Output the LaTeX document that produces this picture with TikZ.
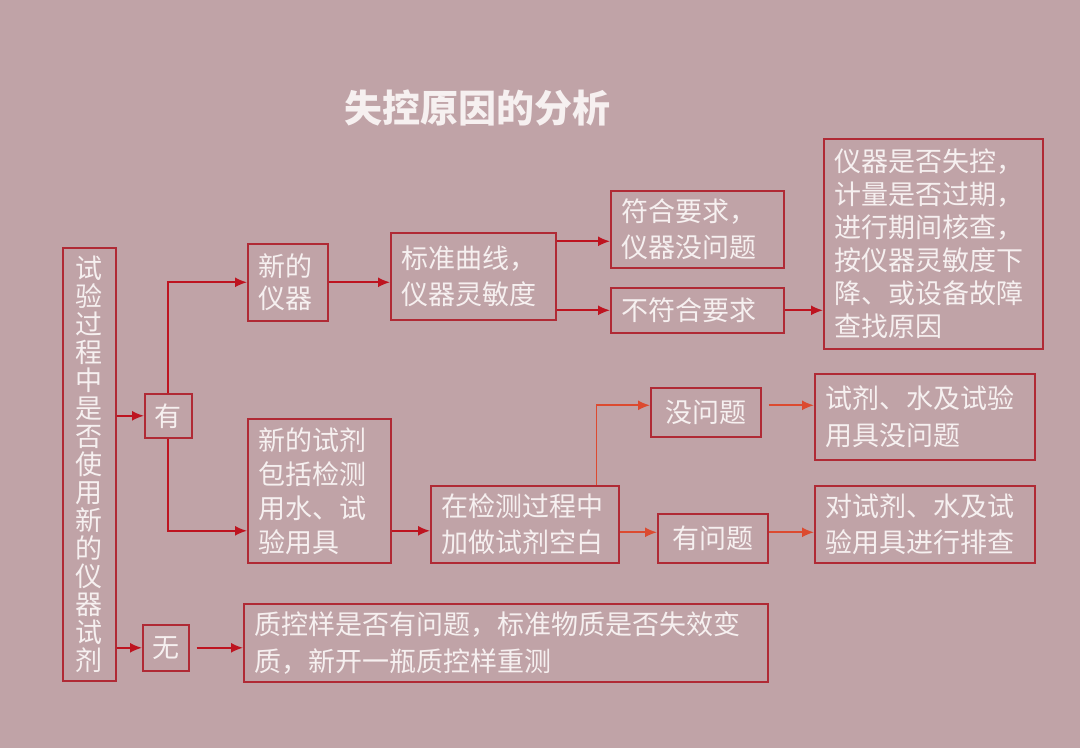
\documentclass[tikz,border=0pt]{standalone}
\usepackage{fontspec}
\setmainfont{Noto Sans CJK SC}
\usetikzlibrary{arrows.meta,positioning}
\definecolor{slidebg}{HTML}{C0A3A7}
\definecolor{boxred}{HTML}{B02A35}
\definecolor{arrowred}{HTML}{BE1420}
\definecolor{arroworange}{HTML}{DC4A30}
\definecolor{chalk}{HTML}{F6F0F0}

\begin{document}
\begin{tikzpicture}[
  x=1pt, y=-1pt,
  font=\fontsize{27}{36.5}\selectfont,
  >={Latex[length=12pt,width=10pt]},
  causebox/.style={
    draw=boxred,
    line width=1.6pt,
    text=chalk,
    align=left,
    inner xsep=11pt,
    inner ysep=0pt,
    anchor=north west
  },
  tagbox/.style={
    causebox,
    align=center,
    inner xsep=0pt
  },
  causearrow/.style={
    ->,
    line width=1.7pt,
    draw=arrowred,
    color=arrowred
  },
  checkarrow/.style={
    causearrow,
    draw=arroworange,
    color=arroworange
  }
]

  % slide background
  \fill[slidebg] (0,0) rectangle (1080,748);

  \node[text=chalk, font=\fontsize{38}{42}\selectfont\bfseries] (title) at (477,108) {失控原因的分析};

  % --- LEFT: question and branches ---
  \node[causebox, align=center, text width=31pt, minimum height=433pt,
        font=\fontsize{27}{28}\selectfont] (lab) at (62,247)
    {试\\验\\过\\程\\中\\是\\否\\使\\用\\新\\的\\仪\\器\\试\\剂};
  \node[tagbox, minimum width=47pt, minimum height=44pt] (yes) at (144,393) {有};
  \node[tagbox, minimum width=46pt, minimum height=46pt] (no) at (142,624) {无};

  % --- UPPER ROW: new instrument ---
  \node[causebox, text width=58pt, minimum height=77pt,
        font=\fontsize{27}{32}\selectfont] (newinst) at (247,243) {新的\\仪器};
  \node[causebox, text width=143pt, minimum height=87pt] (stdcurve) at (390,232) {标准曲线，\\仪器灵敏度};
  \node[causebox, text width=151pt, minimum height=77pt] (meetreq) at (610,190) {符合要求，\\仪器没问题};
  \node[causebox, text width=151pt, minimum height=45pt] (failreq) at (610,287) {不符合要求};
  \node[causebox, text width=197pt, minimum height=210pt,
        font=\fontsize{27}{33}\selectfont] (instcheck) at (823,138)
    {仪器是否失控，\\计量是否过期，\\进行期间核查，\\按仪器灵敏度下\\降、或设备故障\\查找原因};

  % --- MIDDLE ROW: new reagent ---
  \node[causebox, text width=121pt, minimum height=144pt,
        font=\fontsize{27}{34}\selectfont] (newreag) at (247,418)
    {新的试剂\\包括检测\\用水、试\\验用具};
  \node[causebox, text width=166pt, minimum height=77pt] (blanktest) at (430,485) {在检测过程中\\加做试剂空白};
  \node[causebox, align=center, text width=88pt, minimum height=49pt] (noissue) at (650,387) {没问题};
  \node[causebox, align=center, text width=88pt, minimum height=49pt] (hasissue) at (657,513) {有问题};
  \node[causebox, text width=198pt, minimum height=86pt] (reagok) at (814,373) {试剂、水及试验\\用具没问题};
  \node[causebox, text width=198pt, minimum height=77pt] (reagcheck) at (814,485) {对试剂、水及试\\验用具进行排查};

  % --- LOWER ROW: nothing new ---
  \node[causebox, text width=502pt, minimum height=78pt] (qcsample) at (243,603)
    {质控样是否有问题，标准物质是否失效变\\质，新开一瓶质控样重测};

  % Connecting Arrows
  \coordinate (okout) at ([yshift=35pt]stdcurve.east);
  \coordinate (reagout) at ([yshift=-40pt]newreag.west);
  \coordinate (okline) at ([yshift=7pt]noissue.west);
  \coordinate (issueline) at ([yshift=6pt]hasissue.west);

  \draw[causearrow] (lab.east |- yes) -- (yes.west);
  \draw[causearrow] (lab.east |- no) -- (no.west);
  \draw[causearrow] (yes.north) |- (newinst.west);
  \draw[causearrow] (yes.south) |- (reagout);
  \draw[causearrow, shorten <=7pt] (no.east) -- (no.east -| qcsample.west);

  \draw[causearrow] (newinst.east) -- (newinst.east -| stdcurve.west);
  \draw[causearrow] (okout) -- (okout -| meetreq.west);
  \draw[causearrow] (stdcurve.east |- failreq) -- (failreq.west);
  \draw[causearrow] (failreq.east) -- (failreq.east -| instcheck.west);

  \draw[causearrow] (reagout -| newreag.east) -- (reagout -| blanktest.west);
  \draw[checkarrow] ([xshift=-23pt]blanktest.north east) |- (okline);
  \draw[checkarrow] (issueline -| blanktest.east) -- (issueline);
  \draw[checkarrow, shorten <=7pt] (okline -| noissue.east) -- (okline -| reagok.west);
  \draw[checkarrow] (issueline -| hasissue.east) -- (issueline -| reagcheck.west);

\end{tikzpicture}
\end{document}
